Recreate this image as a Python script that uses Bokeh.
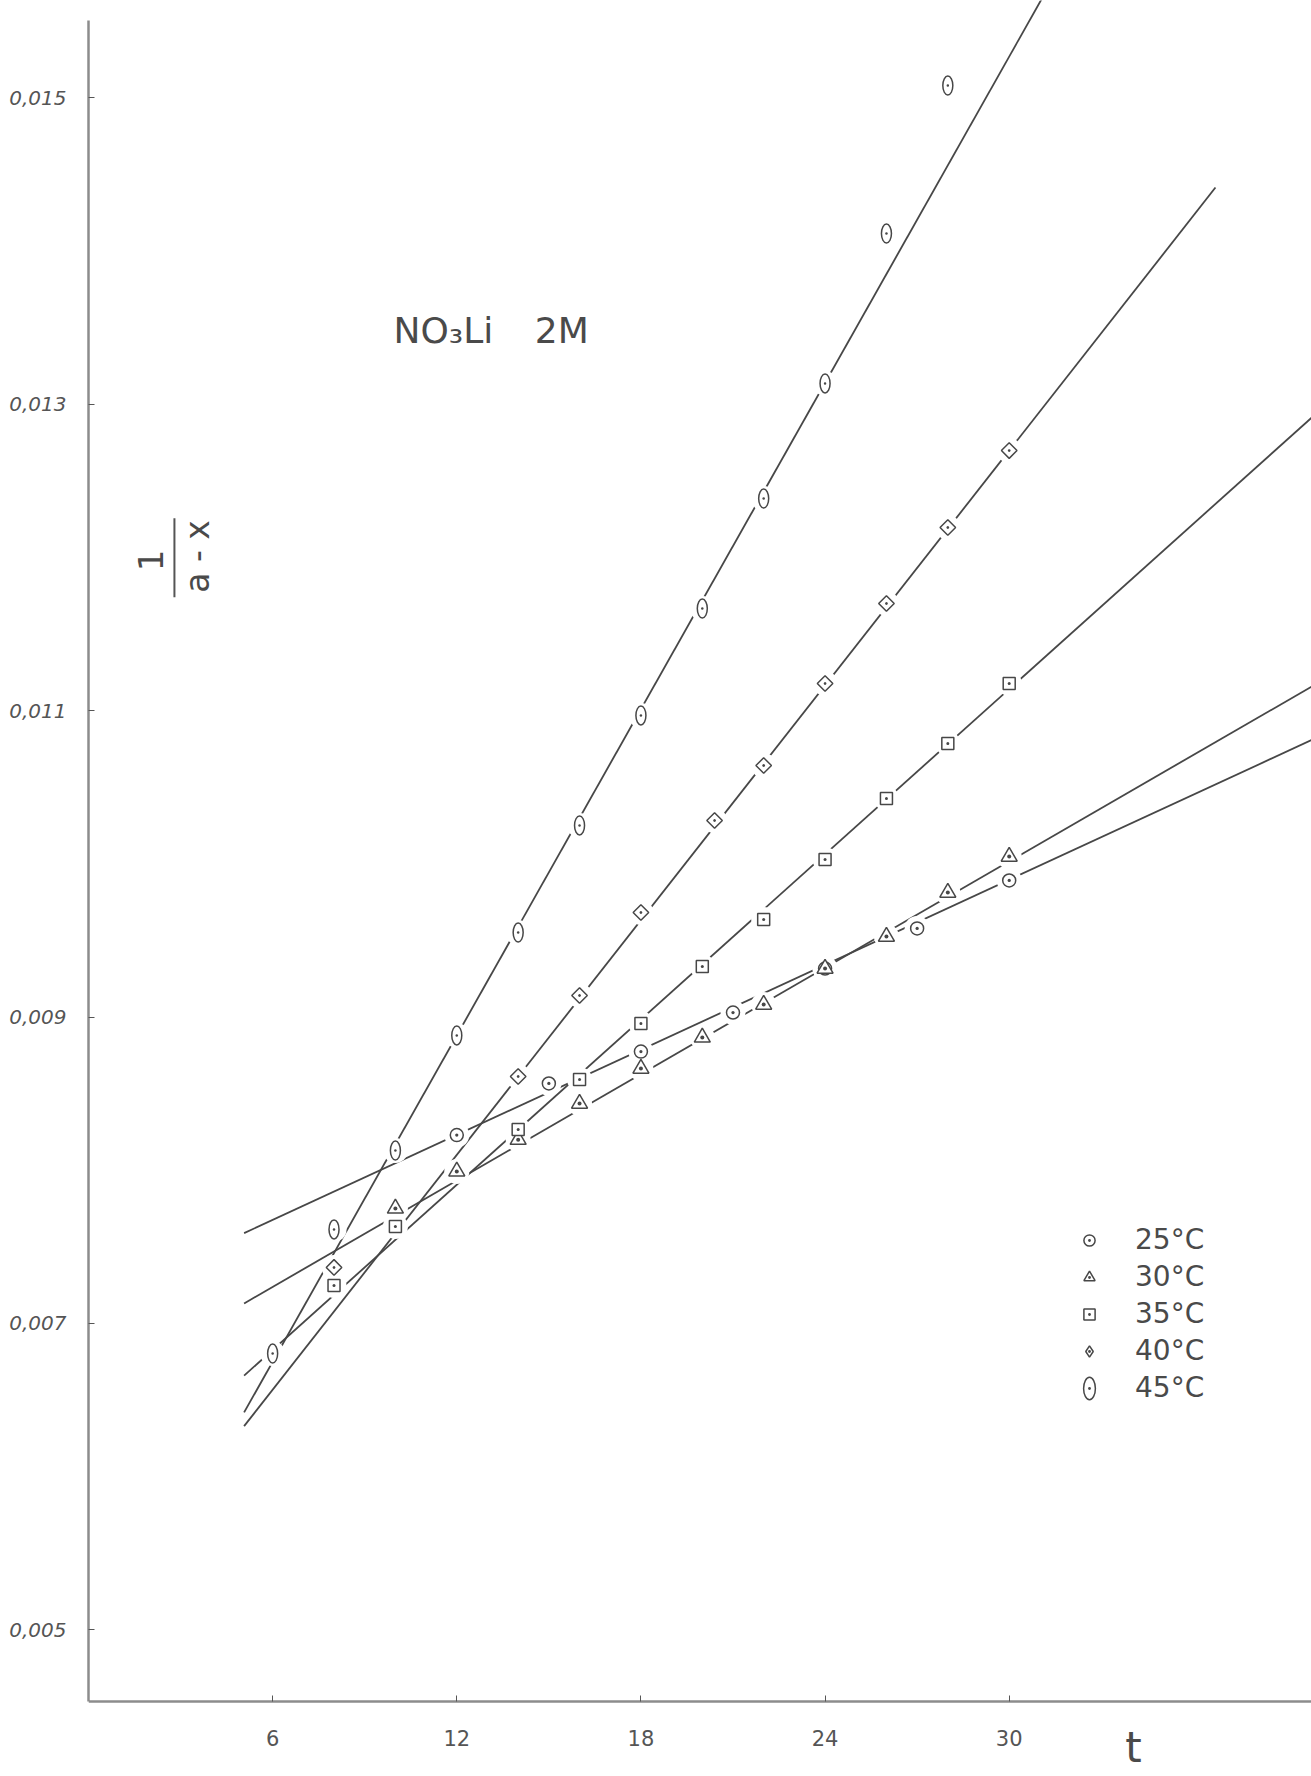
import math
from bokeh.plotting import figure
from bokeh.models import Range1d, FixedTicker, Label, Legend, LegendItem
from bokeh.embed import file_html
from bokeh.resources import INLINE

# ---------------- data ----------------
t_25 = [12, 15, 18, 21, 24, 27, 30]
v_25 = [0.00823, 0.008567, 0.008775, 0.00903, 0.009317, 0.009579, 0.009892]

t_30 = [10, 12, 14, 16, 18, 20, 22, 24, 26, 28, 30]
v_30 = [0.007751, 0.007993, 0.0082, 0.008436, 0.008664, 0.008867, 0.009082,
        0.009317, 0.009526, 0.009813, 0.010048]

t_35 = [8, 10, 14, 16, 18, 20, 22, 24, 26, 28, 30]
v_35 = [0.007248, 0.007633, 0.008266, 0.008593, 0.008958, 0.00933, 0.009637,
        0.010029, 0.010427, 0.010786, 0.011178]

t_40 = [8, 14, 16, 18, 20.4, 22, 24, 26, 28, 30]
v_40 = [0.007366, 0.008612, 0.009141, 0.009683, 0.010283, 0.010642, 0.011178,
        0.0117, 0.012196, 0.012698]

t_45 = [6, 8, 10, 12, 14, 16, 18, 20, 22, 24, 26, 28]
v_45 = [0.006804, 0.007614, 0.008129, 0.00888, 0.009552, 0.010251, 0.010969,
        0.011667, 0.012385, 0.013136, 0.014115, 0.015081]

# hand-drawn straight lines: (start t, end t), (start value, end value)
fit_t_25 = [5.07, 39.86]
fit_v_25 = [0.00759, 0.010809]
fit_t_30 = [5.07, 39.86]
fit_v_30 = [0.007131, 0.011158]
fit_t_35 = [5.07, 39.86]
fit_v_35 = [0.00666, 0.012914]
fit_t_40 = [5.07, 36.72]
fit_v_40 = [0.00633, 0.014415]
fit_t_45 = [5.07, 31.6]
fit_v_45 = [0.00642, 0.015838]

x_ticks = [6, 12, 18, 24, 30]
y_ticks = [0.005, 0.007, 0.009, 0.011, 0.013, 0.015]
y_tick_labels = ["0,005", "0,007", "0,009", "0,011", "0,013", "0,015"]
series_labels = ["25°C", "30°C", "35°C", "40°C", "45°C"]
title_text = "NO₃Li" + "\u00a0" * 3 + "\u2009" + "2M"

X_AXIS_AT = 0.004533     # value where the drawn t axis sits
Y_AXIS_TOP = 0.015505    # top end of the drawn ordinate line

# ---------------- figure ----------------
INK = "#474747"
AXIS = "#8c8c8c"
TXT = "#4a4a4a"
FONT = "DejaVu Sans"

p = figure(width=1311, height=1776, output_backend="svg", toolbar_location=None,
           x_range=Range1d(0, 39.85), y_range=Range1d(0.004043, 0.015636),
           min_border_left=88, min_border_right=0, min_border_top=0,
           min_border_bottom=0, title=None)
p.outline_line_color = None
p.grid.visible = False
p.background_fill_color = "white"
p.border_fill_color = "white"

# axes
p.xaxis.fixed_location = X_AXIS_AT
p.xaxis.ticker = FixedTicker(ticks=x_ticks)
p.xaxis.minor_tick_line_color = None
p.xaxis.major_tick_in = 6
p.xaxis.major_tick_out = 0
p.xaxis.major_tick_line_color = "#555555"
p.xaxis.axis_line_color = AXIS
p.xaxis.axis_line_width = 2.5
p.xaxis.major_label_text_font = FONT
p.xaxis.major_label_text_font_size = "21px"
p.xaxis.major_label_text_color = "#555555"
p.xaxis.major_label_standoff = 29

p.yaxis.bounds = (X_AXIS_AT, Y_AXIS_TOP)
p.yaxis.ticker = FixedTicker(ticks=y_ticks)
p.yaxis.major_label_overrides = {t: s for t, s in zip(y_ticks, y_tick_labels)}
p.yaxis.minor_tick_line_color = None
p.yaxis.major_tick_in = 6
p.yaxis.major_tick_out = 0
p.yaxis.major_tick_line_color = "#555555"
p.yaxis.axis_line_color = AXIS
p.yaxis.axis_line_width = 2.5
p.yaxis.major_label_text_font = FONT
p.yaxis.major_label_text_font_style = "italic"
p.yaxis.major_label_text_font_size = "20px"
p.yaxis.major_label_text_color = "#555555"
p.yaxis.major_label_standoff = 22

# lines
for ft, fv in [(fit_t_25, fit_v_25), (fit_t_30, fit_v_30), (fit_t_35, fit_v_35),
               (fit_t_40, fit_v_40), (fit_t_45, fit_v_45)]:
    p.line(ft, fv, line_color=INK, line_width=1.8)

# white halos to give the broken-line look around each point
for tt, vv in [(t_25, v_25), (t_30, v_30), (t_35, v_35), (t_40, v_40), (t_45, v_45)]:
    p.scatter(tt, vv, marker="circle", size=25, fill_color="white", line_color=None)

r25 = p.scatter(t_25, v_25, marker="circle_dot", size=13, fill_color="white",
                line_color=INK, line_width=1.5)
r30 = p.scatter(t_30, v_30, marker="triangle_dot", size=16, fill_color="white",
                line_color=INK, line_width=1.5)
r35 = p.scatter(t_35, v_35, marker="square_dot", size=12, fill_color="white",
                line_color=INK, line_width=1.5)
r40 = p.scatter(t_40, v_40, marker="square_dot", size=11, angle=math.pi / 4,
                fill_color="white", line_color=INK, line_width=1.5)
r45 = p.ellipse(t_45, v_45, width=10, height=19, width_units="screen",
                height_units="screen", fill_color="white", line_color=INK,
                line_width=1.5)
r45d = p.scatter(t_45, v_45, marker="dot", size=10, color=INK)
# hidden twin of the 40 °C series, only used to draw its key as a diamond
r40_key = p.scatter(t_40, v_40, marker="diamond_dot", size=15, fill_color="white",
                    line_color=INK, line_width=1.5, visible=False)

legend = Legend(items=[
    LegendItem(label=series_labels[0], renderers=[r25]),
    LegendItem(label=series_labels[1], renderers=[r30]),
    LegendItem(label=series_labels[2], renderers=[r35]),
    LegendItem(label=series_labels[3], renderers=[r40_key]),
    LegendItem(label=series_labels[4], renderers=[r45, r45d]),
], location=(987, 372), orientation="vertical")
legend.background_fill_alpha = 0
legend.border_line_alpha = 0
legend.inactive_fill_alpha = 0
legend.padding = 0
legend.margin = 0
legend.glyph_width = 28
legend.glyph_height = 28
legend.label_height = 26
legend.spacing = 4
legend.label_standoff = 32
legend.label_text_font = FONT
legend.label_text_font_size = "28px"
legend.label_text_color = TXT
p.add_layout(legend, "center")

# title inside the plot
p.add_layout(Label(x=9.94, y=0.013482, text=title_text, text_font=FONT,
                   text_font_size="36px", text_color=TXT,
                   text_align="left", text_baseline="alphabetic"))

# y-axis label : 1/(a-x), written rotated
p.add_layout(Label(x=2.02, y=0.011981, text="1", text_font=FONT,
                   text_font_size="34px", text_color=TXT, angle=math.pi / 2,
                   text_align="center", text_baseline="middle"))
p.add_layout(Label(x=3.555, y=0.012007, text="a - x", text_font=FONT,
                   text_font_size="33px", text_color=TXT, angle=math.pi / 2,
                   text_align="center", text_baseline="middle"))
p.segment(x0=[2.80], y0=[0.011740], x1=[2.80], y1=[0.012256],
          line_color="#555555", line_width=2)

# x-axis label "t"
p.add_layout(Label(x=34.05, y=0.004235, text="t",
                   text_font=FONT, text_font_size="42px", text_color=TXT,
                   text_align="center", text_baseline="middle"))

open("out.html", "w").write(file_html(p, INLINE))
